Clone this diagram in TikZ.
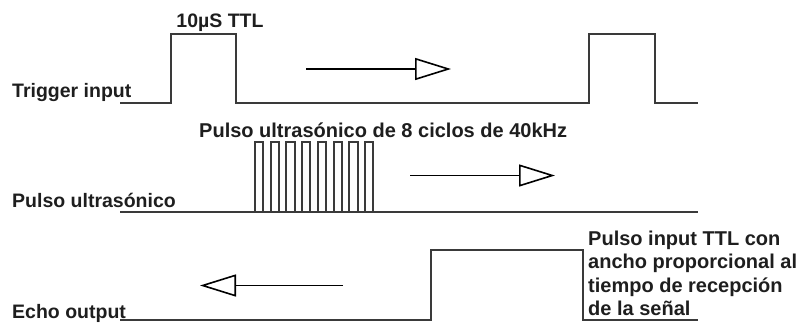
\documentclass[tikz,border=0pt]{standalone}
\usepackage{fontspec}
\setmainfont{Liberation Sans}
\usetikzlibrary{arrows.meta}
\definecolor{wave}{HTML}{3A3A3A}
\definecolor{txt}{HTML}{1E1E1E}
\begin{document}
\begin{tikzpicture}[x=1pt,y=-1pt,
  wavestyle/.style={draw=wave,line width=2pt,line join=miter},
  lbl/.style={inner sep=0pt,text=txt,font=\fontsize{19.5pt}{23.5pt}\selectfont\bfseries},
  biglbl/.style={lbl,font=\fontsize{20pt}{23.5pt}\selectfont\bfseries},
  flowarrow/.style={draw=black,line width=1.6pt,-{Triangle[open,length=36pt,width=22pt,line width=1.6pt]}}]
\useasboundingbox (0,0) rectangle (796,322);
% labels
\node[lbl,anchor=base] (ttl) at (220,27) {10µS TTL};
\node[lbl,anchor=base west] (trig) at (12,97) {Trigger input};
\node[biglbl,anchor=base west] (burstlbl) at (199,137) {Pulso ultrasónico de 8 ciclos de 40kHz};
\node[lbl,anchor=base west] (puls) at (12,207) {Pulso ultrasónico};
\node[lbl,anchor=base west] (echo) at (12,318) {Echo output};
\node[biglbl,anchor=north west,align=left] (echolbl) at (588,230.5)
  {Pulso input TTL con\\ancho proporcional al\\tiempo de recepción\\de la señal};
% trigger waveform
\draw[wavestyle] (120,103) -- (171,103) -- (171,34) -- (236,34) -- (236,103)
  -- (589,103) -- (589,34) -- (655,34) -- (655,103) -- (698,103);
% ultrasonic waveform
\draw[wavestyle] (120,212) -- (698,212);
\foreach \k in {0,...,7}{
  \pgfmathsetmacro{\xa}{255+15.7*\k}
  \pgfmathsetmacro{\xb}{\xa+8.3}
  \draw[wavestyle] (\xa,212) -- (\xa,142) -- (\xb,142) -- (\xb,212);
}
% echo waveform
\draw[wavestyle] (120,320) -- (431,320) -- (431,250) -- (583,250) -- (583,320) -- (698,320);
% direction arrows
\coordinate (a1s) at (306,69);
\coordinate (a1e) at (451,69);
\coordinate (a2s) at (410,175.5);
\coordinate (a2e) at (555,175.5);
\coordinate (a3s) at (343,285.5);
\coordinate (a3e) at (200,285.5);
\draw[flowarrow] (a1s) -- (a1e);
\draw[flowarrow] (a2s) -- (a2e);
\draw[flowarrow] (a3s) -- (a3e);
\end{tikzpicture}
\end{document}
